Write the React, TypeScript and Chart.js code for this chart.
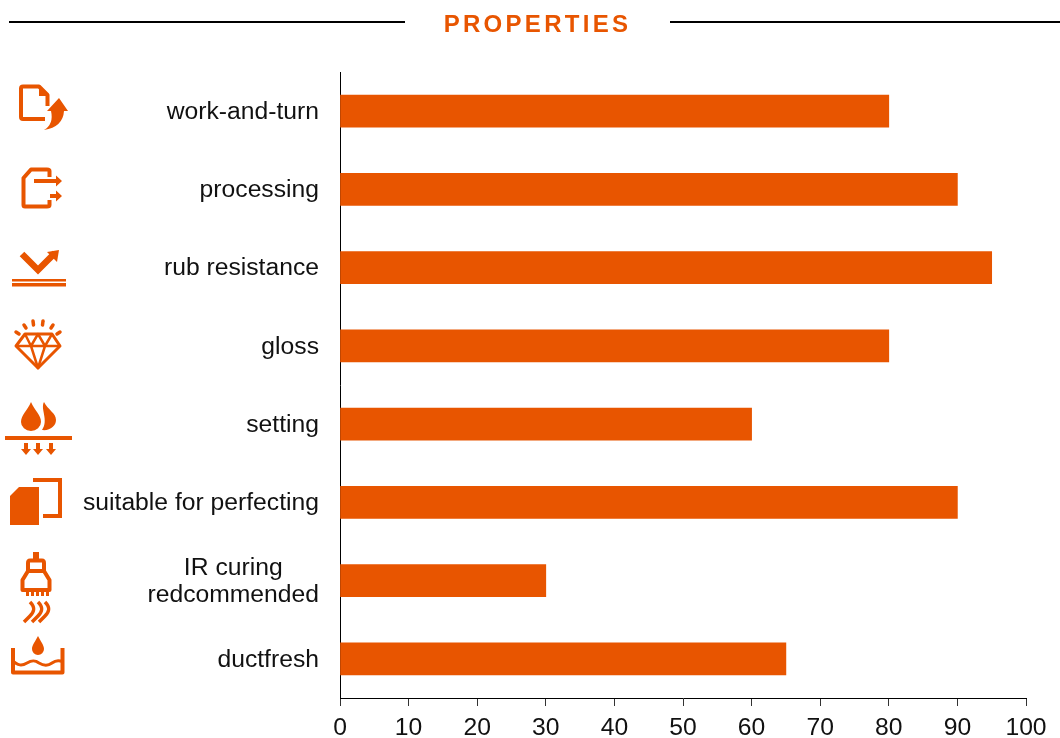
import React, { useEffect, useRef } from "react";
import { Chart, registerables } from "chart.js";

Chart.register(...registerables);

const titleText = "PROPERTIES";
const categories: (string | string[])[] = [
  "work-and-turn",
  "processing",
  "rub resistance",
  "gloss",
  "setting",
  "suitable for perfecting",
  ["IR curing", "redcommended"],
  "ductfresh",
];
const scores = [80, 90, 95, 80, 60, 90, 30, 65];
const xTicks = [0, 10, 20, 30, 40, 50, 60, 70, 80, 90, 100];

const ORANGE = "#E85500";
const FONT = '"Liberation Sans", Arial, sans-serif';

// Chart.js aligns every tick label the same way; the two-line label is centred within its block,
// and the y labels sit one pixel lower than the scale's own middle baseline.
const centreMultiline = {
  id: "centreMultiline",
  beforeDraw(chart: any) {
    const scale = chart.scales.y;
    const ctx = chart.ctx;
    ctx.save();
    for (const item of scale.getLabelItems()) {
      if (item.adjusted) continue;
      item.adjusted = true;
      let [x, y] = item.options.translation;
      if (Array.isArray(item.label)) {
        ctx.font = item.font.string;
        const w = Math.max(...item.label.map((l: string) => ctx.measureText(l).width));
        item.options.textAlign = "center";
        x -= w / 2;
      }
      item.options.translation = [x, y + 1];
    }
    ctx.restore();
  },
};

function Icons() {
  const s = { fill: "none", stroke: ORANGE, strokeWidth: 4, strokeLinejoin: "round" as const, strokeLinecap: "butt" as const };
  const f = { fill: ORANGE, stroke: "none" };
  return (
    <svg width={1060} height={738} viewBox="0 0 1060 738" style={{ position: "absolute", left: 0, top: 0, pointerEvents: "none" }}>
      {/* heading rules */}
      <line x1={9} x2={405} y1={22} y2={22} stroke="#000" strokeWidth={2} />
      <line x1={670} x2={1060} y1={22} y2={22} stroke="#000" strokeWidth={2} />

      {/* work-and-turn */}
      <path d="M47.500 106V95L39 86.500H23Q21 86.500 21 88.500V117Q21 119 23 119H45" {...s} />
      <path d="M39 85L49 96H39Z" {...f} />
      <path d="M59 98L68 111H64Q63 127 44 130Q54 124 51 111H47Z" fill={ORANGE} stroke="#fff" strokeWidth={1} paintOrder="stroke" />
      {/* processing */}
      <path d="M49.500 177V171Q49.500 169.500 47 169.500H31L23.500 178V205Q23.500 206.500 25 206.500H47Q49.500 206.500 49.500 205V200" {...s} />
      <path d="M34 179H56V175.500L62 181L56 186.500V183H34Z" {...f} />
      <path d="M50 194H56V190.500L62 196L56 201.500V198H50Z" {...f} />
      {/* rub resistance */}
      <path d="M22 254L38 270L55 253" fill="none" stroke={ORANGE} strokeWidth={6.500} />
      <path d="M47 252L59 250L57 262Z" {...f} />
      <rect x={12} y={279} width={54} height={2.500} fill={ORANGE} />
      <rect x={12} y={283} width={54} height={3.500} fill={ORANGE} />
      {/* gloss */}
      <path d="M25 334H52L60 346L38 368L16 346Z" {...s} strokeWidth={3} />
      <path d="M16 346H60M25 334L31 346L38 334L45 346L52 334M31 346L38 368L45 346" {...s} strokeWidth={2.500} />
      <g stroke={ORANGE} strokeWidth={3.500} strokeLinecap="round">
        <line x1={16} y1={332} x2={19} y2={334} />
        <line x1={24} y1={325} x2={26} y2={328} />
        <line x1={33} y1={321} x2={33.500} y2={325} />
        <line x1={43} y1={321} x2={42.500} y2={325} />
        <line x1={53} y1={325} x2={51} y2={328} />
        <line x1={60} y1={332} x2={57} y2={334} />
      </g>
      {/* setting */}
      <path d="M31 402C27 411 21 415 21 422A10 9 0 0 0 41 422C41 415 35 411 31 402Z" {...f} />
      <path d="M44 402C40 409 49 420 42 430C50 431 56 426 56 420C56 413 48 410 44 402Z" {...f} />
      <rect x={5} y={436} width={67} height={4} fill={ORANGE} />
      <path d="M24 443H28V449H31L26 455L21 449H24Z" {...f} />
      <path d="M36 443H40V449H43L38 455L33 449H36Z" {...f} />
      <path d="M49 443H53V449H56L51 455L46 449H49Z" {...f} />
      {/* suitable for perfecting */}
      <path d="M33 480H60V516H43" {...s} strokeLinejoin="miter" />
      <path d="M19 487H39V525H10V496Z" {...f} />
      {/* IR curing */}
      <rect x={33} y={552} width={6} height={8} fill={ORANGE} />
      <path d="M30 560.500H42Q44 560.500 44 563V571H28V563Q28 560.500 30 560.500Z" {...s} />
      <path d="M28 571H44L49.500 580V590H22.500V580Z" {...s} />
      <g fill={ORANGE}>
        <rect x={26} y={592} width={3} height={4} />
        <rect x={31} y={592} width={3} height={4} />
        <rect x={36} y={592} width={3} height={4} />
        <rect x={41} y={592} width={3} height={4} />
        <rect x={46} y={592} width={3} height={4} />
      </g>
      <g fill="none" stroke={ORANGE} strokeWidth={3.500}>
        <path d="M30 602C36 608 34 612 30 616C28 618 26 620 24 622" />
        <path d="M38 602C44 608 42 612 38 616C36 618 34 620 32 622" />
        <path d="M45 602C51 608 49 612 45 616C43 618 41 620 39 622" />
      </g>
      {/* ductfresh */}
      <path d="M38 636C35 642 32 645 32 649A6 6 0 0 0 44 649C44 645 41 642 38 636Z" {...f} />
      <path d="M13 648V672.500H62.500V648" {...s} />
      <path d="M12 660C18 666 22 666 27 663C32 660 35 660 39 663C44 666 48 666 52 663C56 660 59 660 63 662" {...s} strokeWidth={3} />
    </svg>
  );
}

export default function App() {
  const ref = useRef<HTMLCanvasElement>(null);
  useEffect(() => {
    const chart = new Chart(ref.current!, {
      type: "bar",
      data: {
        labels: categories as any,
        datasets: [{ label: "Properties", data: scores, backgroundColor: ORANGE, barThickness: 32, borderWidth: 0 }],
      },
      plugins: [centreMultiline],
      options: {
        indexAxis: "y",
        animation: false,
        responsive: false,
        layout: { padding: { left: 0, right: 34, top: 72, bottom: 0 } },
        plugins: { legend: { display: false }, title: { display: false }, tooltip: { enabled: false } },
        scales: {
          x: {
            min: 0,
            max: 100,
            afterBuildTicks: (scale: any) => {
              scale.ticks = xTicks.map((value) => ({ value }));
            },
            afterFit: (scale: any) => {
              scale.height = 40;
            },
            grid: { drawOnChartArea: false, drawTicks: true, tickLength: 8, color: "#333", lineWidth: 1 },
            border: { display: true, color: "#000", width: 1 },
            ticks: { color: "#111", font: { family: FONT, size: 24.7 }, padding: 7, maxRotation: 0, autoSkip: false },
          },
          y: {
            afterFit: (scale: any) => {
              scale.width = 340;
            },
            grid: { display: false },
            border: { display: true, color: "#000", width: 1 },
            ticks: { color: "#111", font: { family: FONT, size: 24.7, lineHeight: 1.1 }, padding: 13, autoSkip: false },
          },
        },
      },
    });
    return () => chart.destroy();
  }, []);
  return (
    <div style={{ position: "absolute", left: 0, top: 0, width: 1060, height: 738, background: "#fff", overflow: "hidden" }}>
      <canvas ref={ref} width={1060} height={738} style={{ position: "absolute", left: 0, top: 0 }} />
      <Icons />
      <div
        style={{
          position: "absolute",
          left: 405,
          width: 265,
          top: 10,
          textAlign: "center",
          fontFamily: FONT,
          fontWeight: 700,
          fontSize: 24,
          lineHeight: "28px",
          letterSpacing: 3.3,
          color: ORANGE,
        }}
      >
        {titleText}
      </div>
    </div>
  );
}
